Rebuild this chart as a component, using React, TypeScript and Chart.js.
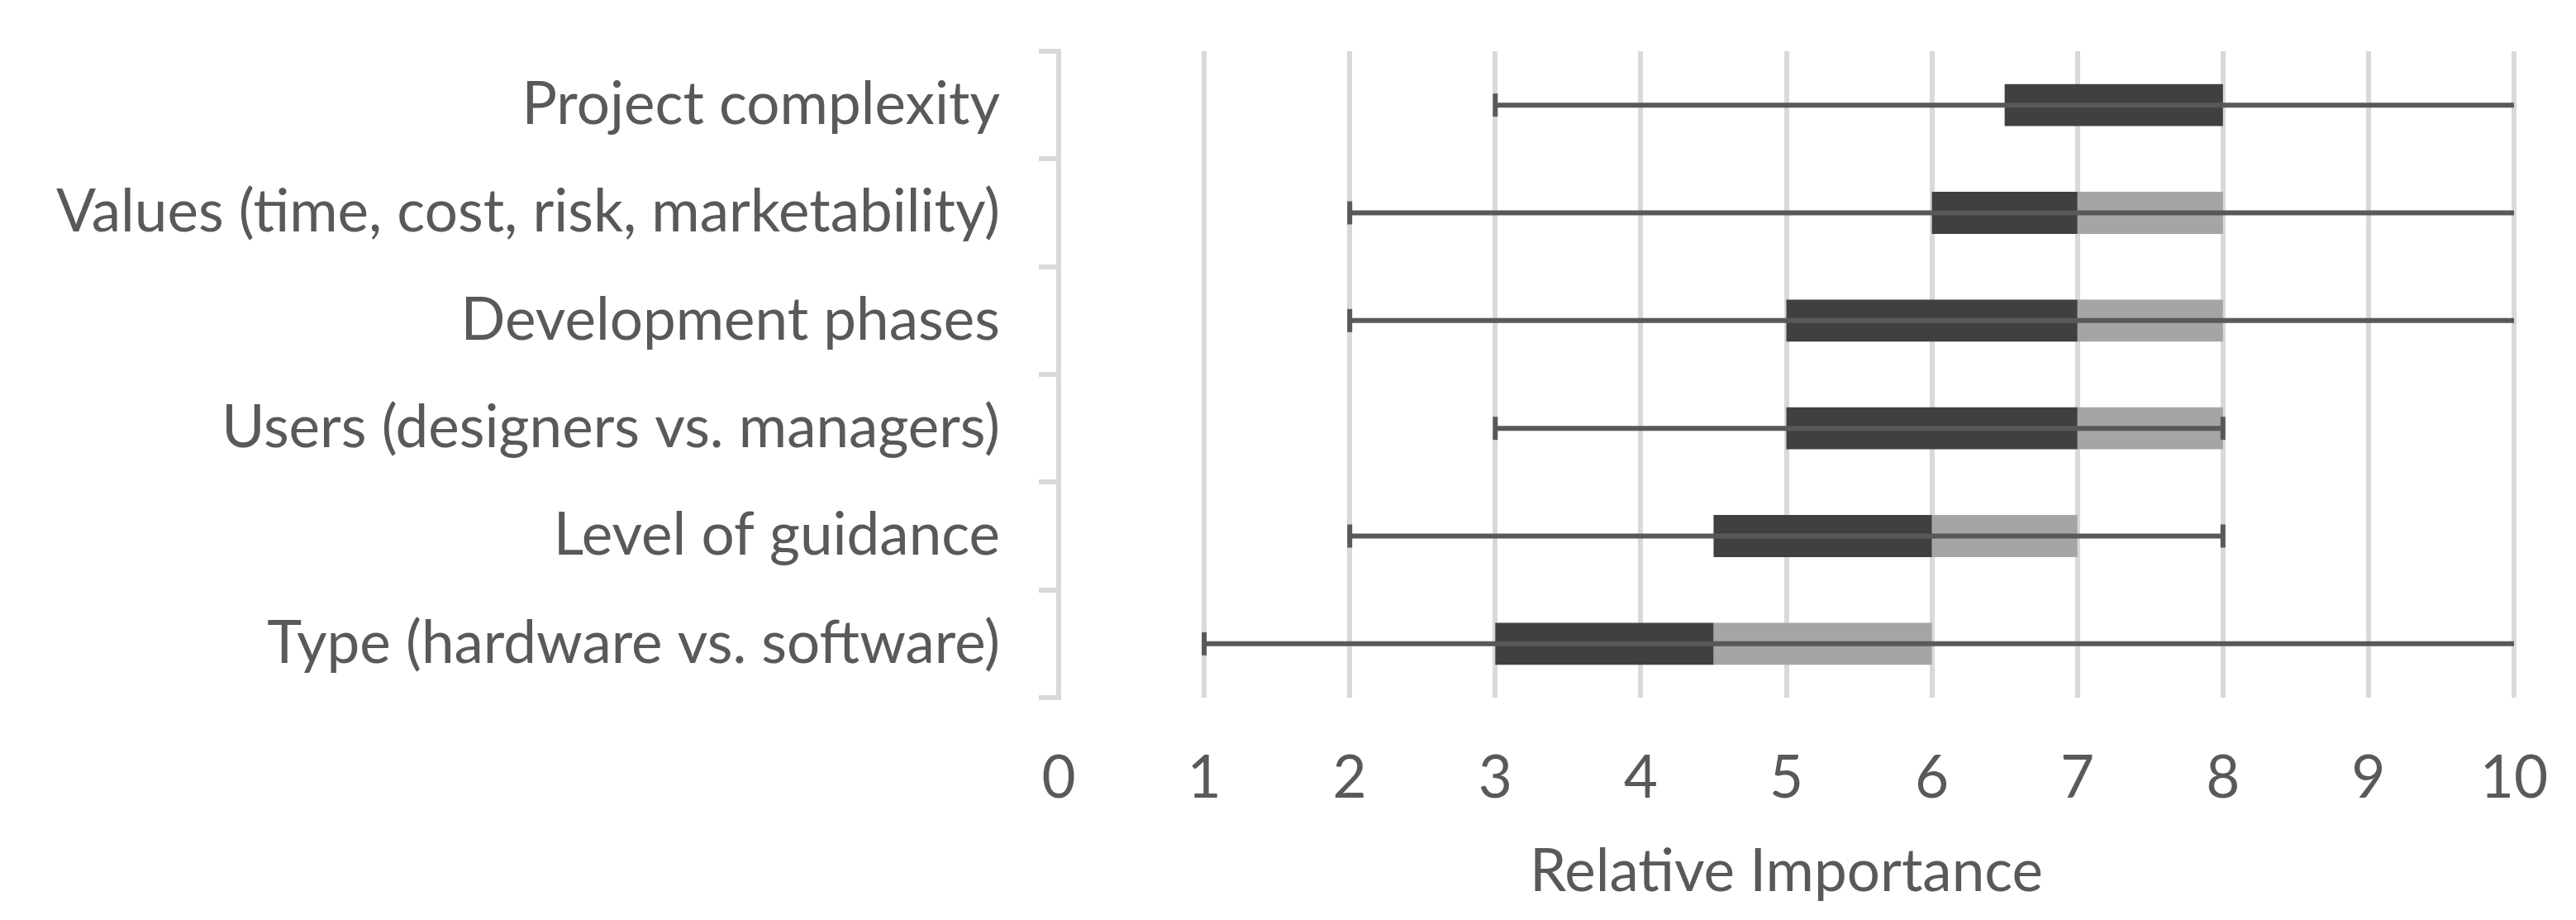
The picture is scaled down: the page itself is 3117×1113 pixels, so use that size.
import { useEffect, useRef } from "react";
import { Chart, registerables } from "chart.js";

Chart.register(...registerables);

const categories = [
  "Project complexity",
  "Values (time, cost, risk, marketability)",
  "Development phases",
  "Users (designers vs. managers)",
  "Level of guidance",
  "Type (hardware vs. software)",
];
const whiskerMin = [3, 2, 2, 3, 2, 1];
const whiskerMax = [10, 10, 10, 8, 8, 10];
const q1 = [6.5, 6, 5, 5, 4.5, 3];
const median = [8, 7, 7, 7, 6, 4.5];
const q3 = [8, 8, 8, 8, 7, 6];
const xTicks = [0, 1, 2, 3, 4, 5, 6, 7, 8, 9, 10];
const xTitle = "Relative Importance";

const DARK = "#404040";
const LIGHT = "#a5a5a5";
const WHISKER = "#595959";
const GRID = "#d9d9d9";
const TEXT = "#595959";
const FONT = { family: "Lato, 'Noto Sans', sans-serif", size: 71 };

const whiskerPlugin = {
  id: "whiskers",
  afterDatasetsDraw(chart: any) {
    const { ctx } = chart;
    const x = chart.scales.x;
    const y = chart.scales.y;
    ctx.save();
    ctx.strokeStyle = WHISKER;
    ctx.lineWidth = 6;
    categories.forEach((_, i) => {
      const cy = y.getPixelForValue(i);
      const x1 = x.getPixelForValue(whiskerMin[i]);
      const x2 = x.getPixelForValue(whiskerMax[i]);
      ctx.beginPath();
      ctx.moveTo(x1, cy);
      ctx.lineTo(x2, cy);
      ctx.stroke();
      [whiskerMin[i], whiskerMax[i]].forEach((v) => {
        if (v < x.max) {
          const px = x.getPixelForValue(v);
          ctx.beginPath();
          ctx.moveTo(px, cy - 14);
          ctx.lineTo(px, cy + 14);
          ctx.stroke();
        }
      });
    });
    ctx.restore();
  },
};

export default function App() {
  const ref = useRef<HTMLCanvasElement | null>(null);
  useEffect(() => {
    if (!ref.current) return;
    const chart = new Chart(ref.current, {
      type: "bar",
      data: {
        labels: categories,
        datasets: [
          {
            label: "Q1 - Median",
            data: categories.map((_, i) => [q1[i], median[i]]) as any,
            backgroundColor: DARK,
            grouped: false,
            categoryPercentage: 1,
            barPercentage: 0.39,
          },
          {
            label: "Median - Q3",
            data: categories.map((_, i) => [median[i], q3[i]]) as any,
            backgroundColor: LIGHT,
            grouped: false,
            categoryPercentage: 1,
            barPercentage: 0.39,
          },
        ],
      },
      options: {
        indexAxis: "y",
        animation: false,
        responsive: false,
        devicePixelRatio: 1,
        layout: { autoPadding: false, padding: { top: 62, right: 75, left: 0, bottom: 0 } },
        plugins: { legend: { display: false }, tooltip: { enabled: false } },
        scales: {
          x: {
            type: "linear",
            min: 0,
            max: 10,
            afterBuildTicks: (scale: any) => {
              scale.ticks = xTicks.map((v) => ({ value: v }));
            },
            grid: { color: GRID, lineWidth: 6, drawTicks: false },
            border: { display: false },
            ticks: { color: TEXT, font: FONT, padding: 56 },
            title: {
              display: true,
              text: xTitle,
              color: TEXT,
              font: FONT,
              padding: { top: 37, bottom: 15 },
            },
            afterFit: (scale: any) => {
              scale.height = 269;
              scale.paddingLeft = 0;
              scale.paddingRight = 0;
            },
          },
          y: {
            type: "category",
            offset: true,
            grid: {
              offset: true,
              drawOnChartArea: false,
              drawTicks: true,
              tickLength: 24,
              color: GRID,
              lineWidth: 6,
            },
            border: { display: true, color: GRID, width: 6 },
            ticks: { color: TEXT, font: FONT, padding: 47 },
            afterFit: (scale: any) => {
              scale.width = 1281;
              scale.paddingTop = 0;
              scale.paddingBottom = 0;
            },
          },
        },
      } as any,
      plugins: [whiskerPlugin],
    });
    return () => chart.destroy();
  }, []);
  return (
    <div style={{ position: "fixed", left: 0, top: 0, width: 3117, height: 1113, background: "#fff" }}>
      <canvas ref={ref} width={3117} height={1113} />
    </div>
  );
}
